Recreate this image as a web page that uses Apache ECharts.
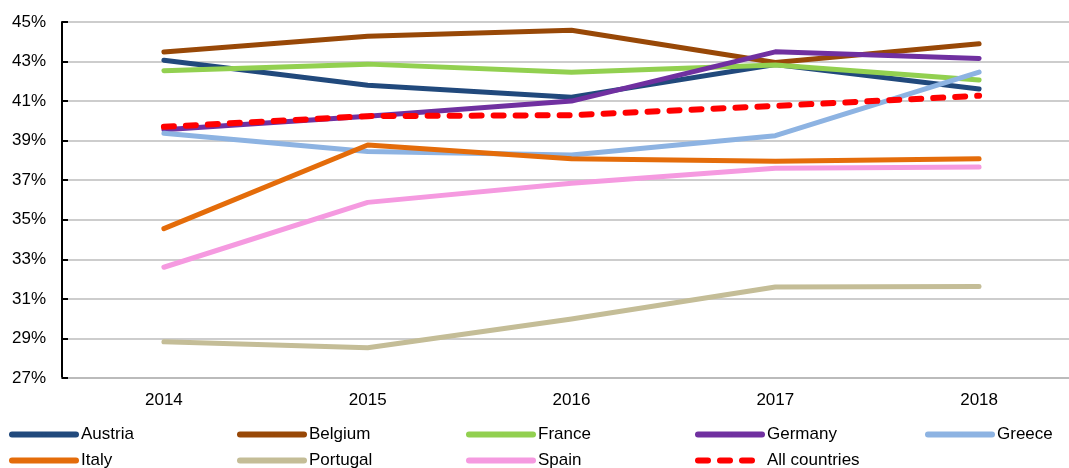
<!DOCTYPE html>
<html>
<head>
<meta charset="utf-8">
<script src="https://cdn.jsdelivr.net/npm/echarts@6/dist/echarts.min.js"></script>
<style>
  html, body { margin: 0; padding: 0; background: #fff; }
  #chart { width: 1069px; height: 468px; }
</style>
</head>
<body>
<div id="chart"></div>
<script>
// categories
const years = ['2014', '2015', '2016', '2017', '2018']

// series values (%)
const austria = [43.07, 41.8, 41.2, 42.85, 41.61]
const belgium = [43.48, 44.28, 44.58, 42.95, 43.9]
const france = [42.54, 42.87, 42.46, 42.82, 42.07]
const germany = [39.55, 40.24, 41.0, 43.49, 43.16]
const greece = [39.38, 38.45, 38.28, 39.25, 42.47]
const italy = [34.55, 38.78, 38.08, 37.96, 38.09]
const portugal = [28.83, 28.53, 29.98, 31.6, 31.63]
const spain = [32.6, 35.88, 36.85, 37.6, 37.67]
const allCountries = [39.7, 40.24, 40.29, 40.76, 41.27]

// y axis range
const yMin = 27
const yMax = 45
const yStep = 2

const names = ['Austria', 'Belgium', 'France', 'Germany', 'Greece', 'Italy', 'Portugal', 'Spain', 'All countries']
const values = [austria, belgium, france, germany, greece, italy, portugal, spain, allCountries]
const colors = ['#21497C', '#984807', '#92D050', '#7030A0', '#8DB3E2', '#E46C0A', '#C4BD97', '#F59AE0', '#FF0000']

const font = '"Liberation Sans", Arial, sans-serif'

// legend: 5 columns, 2 rows
const legendCols = [9, 237, 466, 695, 925]
const legendRows = [426, 452]
const legends = names.map((n, i) => ({
  data: [n],
  left: legendCols[i % 5],
  top: legendRows[Math.floor(i / 5)],
  padding: 0,
  itemWidth: 64,
  itemHeight: 6,
  itemGap: 0,
  selectedMode: false,
  lineStyle: { width: 6 },
  textStyle: { fontFamily: font, fontSize: 17, color: '#000' }
}))

const chart = echarts.init(document.getElementById('chart'))
chart.setOption({
  animation: false,
  legend: legends,
  // plot is wider than the window: last category half cut at the right edge
  grid: { left: 62, width: 1019, top: 22, height: 356, containLabel: false, outerBoundsMode: 'none' },
  xAxis: {
    type: 'category',
    data: years,
    boundaryGap: true,
    axisLine: { lineStyle: { color: '#b5b5b5', width: 1.5 } },
    axisTick: { show: false },
    axisLabel: { fontFamily: font, fontSize: 17, color: '#000', margin: 14 }
  },
  yAxis: {
    type: 'value',
    min: yMin,
    max: yMax,
    interval: yStep,
    axisLine: { show: true, lineStyle: { color: '#000', width: 2 } },
    axisTick: { show: true, inside: true, length: 6, lineStyle: { color: '#000', width: 2 } },
    axisLabel: { fontFamily: font, fontSize: 17, color: '#000', margin: 16, formatter: '{value}%' },
    splitLine: { lineStyle: { color: '#bdbdbd', width: 1.5 } }
  },
  series: names.map((n, i) => ({
    name: n,
    type: 'line',
    data: values[i],
    symbol: 'none',
    color: colors[i],
    lineStyle: {
      color: colors[i],
      width: n === 'All countries' ? 6 : 5,
      type: n === 'All countries' ? [10, 12] : 'solid',
      cap: 'round',
      join: 'round'
    }
  }))
})
</script>
</body>
</html>
